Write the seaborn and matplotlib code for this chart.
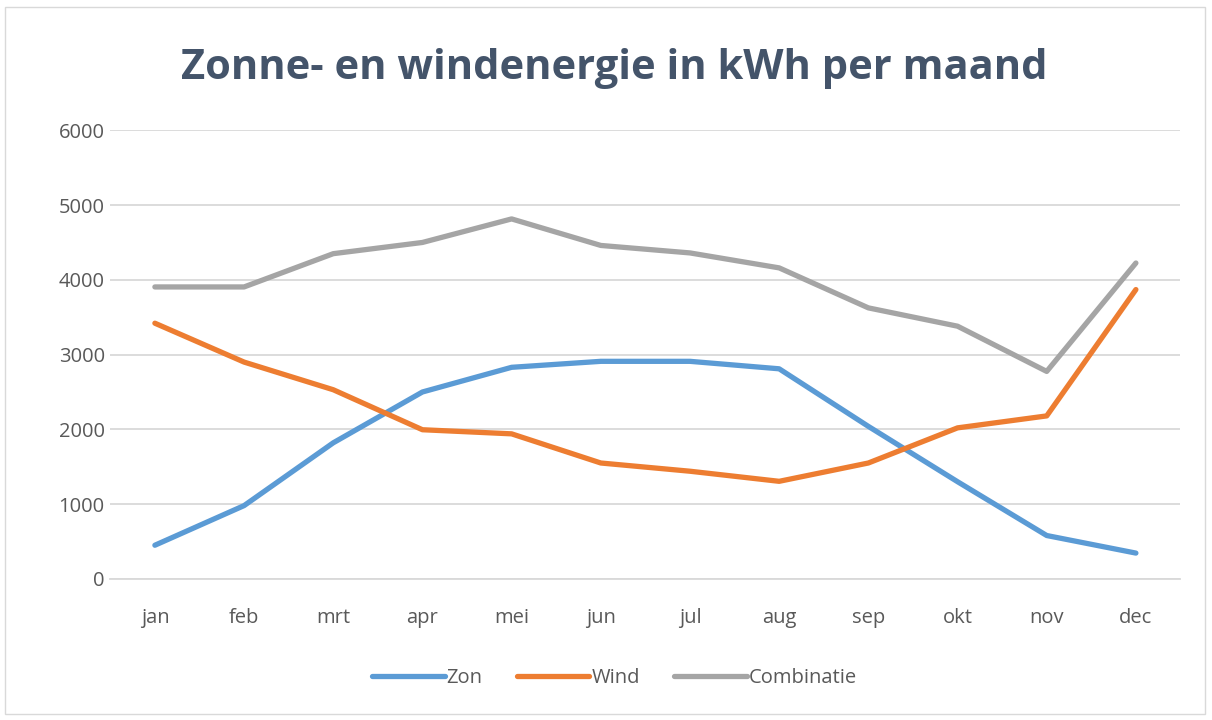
import pandas as pd
import seaborn as sns
import matplotlib.pyplot as plt
from matplotlib.patches import Rectangle

# maanden en waarden
maanden = ['jan', 'feb', 'mrt', 'apr', 'mei', 'jun', 'jul', 'aug', 'sep', 'okt', 'nov', 'dec']
zon = [450, 980, 1820, 2500, 2830, 2910, 2910, 2810, 2040, 1300, 580, 345]
wind = [3420, 2900, 2530, 1995, 1940, 1550, 1440, 1305, 1550, 2020, 2180, 3870]
combinatie = [3905, 3905, 4350, 4500, 4815, 4460, 4360, 4160, 3625, 3380, 2775, 4225]
yticks = [0, 1000, 2000, 3000, 4000, 5000, 6000]

df = pd.DataFrame({'maand': maanden, 'Zon': zon, 'Wind': wind, 'Combinatie': combinatie})
lang = df.melt(id_vars='maand', var_name='reeks', value_name='kWh')

sns.set_style('white')
plt.rcParams['font.family'] = ['Open Sans', 'DejaVu Sans']

kleuren = {'Zon': '#5B9BD5', 'Wind': '#ED7D31', 'Combinatie': '#A5A5A5'}

fig = plt.figure(figsize=(12.12, 7.2), dpi=100)
ax = fig.add_axes([0.091, 0.196, 0.883, 0.623])

sns.lineplot(data=lang, x='maand', y='kWh', hue='reeks', palette=kleuren,
             sort=False, linewidth=3.8, ax=ax, legend=False)

ax.set_xlim(-0.5, len(maanden) - 0.5)
ax.set_ylim(0, 6000)
ax.set_yticks(yticks)
ax.set_yticklabels([str(v) for v in yticks])
ax.set_xlabel('')
ax.set_ylabel('')
ax.grid(axis='y', color='#D9D9D9', linewidth=1.3)
ax.set_axisbelow(True)
for s in ['top', 'right', 'left']:
    ax.spines[s].set_visible(False)
ax.spines['bottom'].set_color('#D9D9D9')
ax.spines['bottom'].set_linewidth(1.3)
ax.tick_params(axis='both', length=0, labelsize=14.5, labelcolor='#595959')
ax.tick_params(axis='x', pad=21)
ax.tick_params(axis='y', pad=4)

fig.text(0.507, 0.905, 'Zonne- en windenergie in kWh per maand', ha='center', va='center',
         fontsize=30, fontweight='bold', color='#44546A')

# legenda onderaan
handles = [plt.Line2D([], [], color=kleuren[k], linewidth=3.8) for k in ['Zon', 'Wind', 'Combinatie']]
fig.legend(handles, ['Zon', 'Wind', 'Combinatie'], loc='center', bbox_to_anchor=(0.507, 0.058),
           ncol=3, frameon=False, fontsize=14.5, handlelength=3.6, handletextpad=0.1,
           columnspacing=1.7, labelcolor='#595959')

# lichte rand rond de grafiek
fig.patches.append(Rectangle((0.004, 0.008), 0.99, 0.982, transform=fig.transFigure,
                             fill=False, edgecolor='#D9D9D9', linewidth=1))

plt.savefig('out.png', dpi=100)
